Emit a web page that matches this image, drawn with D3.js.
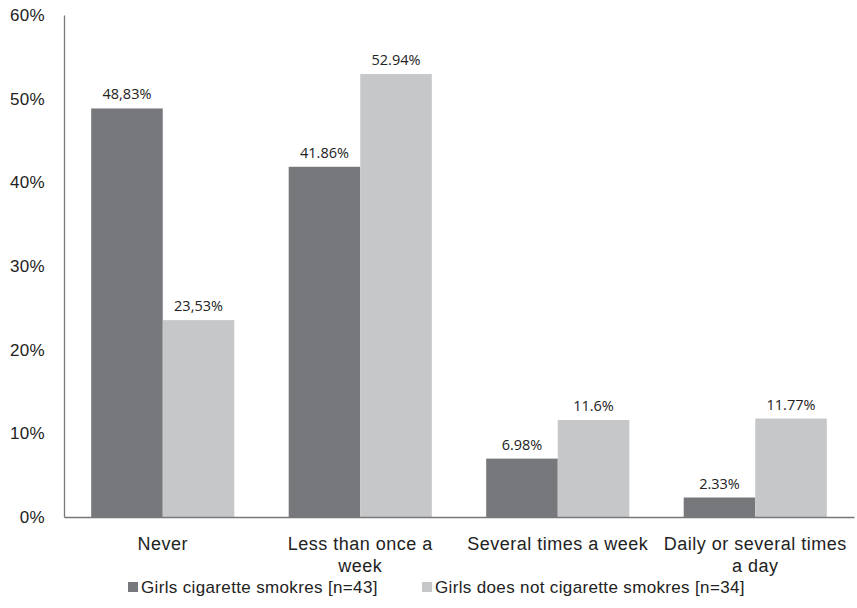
<!DOCTYPE html>
<html><head><meta charset="utf-8">
<script src="https://cdn.jsdelivr.net/npm/d3@7"></script>
<style>body{margin:0;background:#fff}</style>
</head><body><svg id="c" width="857" height="608"></svg>
<script>
const categories = [["Never"], ["Less than once a", "week"], ["Several times a week"], ["Daily or several times", "a day"]];
const seriesNames = ["Girls cigarette smokres [n=43]", "Girls does not cigarette smokres [n=34]"];
const smokers = [48.83, 41.86, 6.98, 2.33];
const nonSmokers = [23.53, 52.94, 11.6, 11.77];
const smokersLabels = ["48,83%", "41.86%", "6.98%", "2.33%"];
const nonSmokersLabels = ["23,53%", "52.94%", "11.6%", "11.77%"];
const yTicks = [0, 10, 20, 30, 40, 50, 60];
const colors = ["#77787b", "#c6c7c9"];

const svg = d3.select("#c");
const y = d3.scaleLinear().domain([0, 60]).range([517, 15]);
const x0 = d3.scaleBand().domain(d3.range(categories.length)).range([64, 854]).padding(0);
const x1 = d3.scaleBand().domain([0, 1]).range([0, x0.bandwidth()]).paddingInner(0).paddingOuter(0.38);

const series = [smokers, nonSmokers];
const labels = [smokersLabels, nonSmokersLabels];
const sans = "Liberation Sans, Arial, Helvetica, sans-serif";

// y axis
const yAxis = svg.append("g").attr("transform", "translate(64,0)")
  .call(d3.axisLeft(y).tickValues(yTicks).tickSize(0).tickPadding(19).tickFormat(d => d + "%"));
yAxis.select(".domain").attr("stroke", "#777").attr("stroke-width", 1.3);
yAxis.selectAll("text").attr("font-family", sans).attr("font-size", 17)
  .attr("letter-spacing", 0.3).attr("fill", "#222");

// bars
categories.forEach((c, i) => {
  series.forEach((s, j) => {
    svg.append("rect")
      .attr("x", x0(i) + x1(j)).attr("y", y(s[i]))
      .attr("width", x1.bandwidth()).attr("height", y(0) - y(s[i]))
      .attr("fill", colors[j]);
    svg.append("text")
      .attr("x", x0(i) + x1(j) + x1.bandwidth() / 2).attr("y", y(s[i]) - 9)
      .attr("text-anchor", "middle")
      .attr("font-family", "Open Sans, sans-serif").attr("font-size", 14.5).attr("fill", "#222")
      .text(labels[j][i]);
  });
});

// x axis
const xAxis = svg.append("g").attr("transform", "translate(0,517)")
  .call(d3.axisBottom(x0).tickSize(0).tickFormat(""));
xAxis.select(".domain").attr("stroke", "#777").attr("stroke-width", 1.3);
categories.forEach((c, i) => {
  const t = svg.append("text").attr("text-anchor", "middle")
    .attr("font-family", sans).attr("font-size", 18).attr("letter-spacing", 0.5).attr("fill", "#222");
  c.forEach((line, k) => {
    t.append("tspan").attr("x", x0(i) + x0.bandwidth() / 2).attr("y", 549.5 + k * 22).text(line);
  });
});

// legend
const legendX = [128, 422];
seriesNames.forEach((n, j) => {
  svg.append("rect").attr("x", legendX[j]).attr("y", 582).attr("width", 10).attr("height", 10).attr("fill", colors[j]);
  svg.append("text").attr("x", legendX[j] + 13).attr("y", 593)
    .attr("font-family", sans).attr("font-size", 17).attr("letter-spacing", 0.35).attr("fill", "#222")
    .text(n);
});
</script></body></html>
